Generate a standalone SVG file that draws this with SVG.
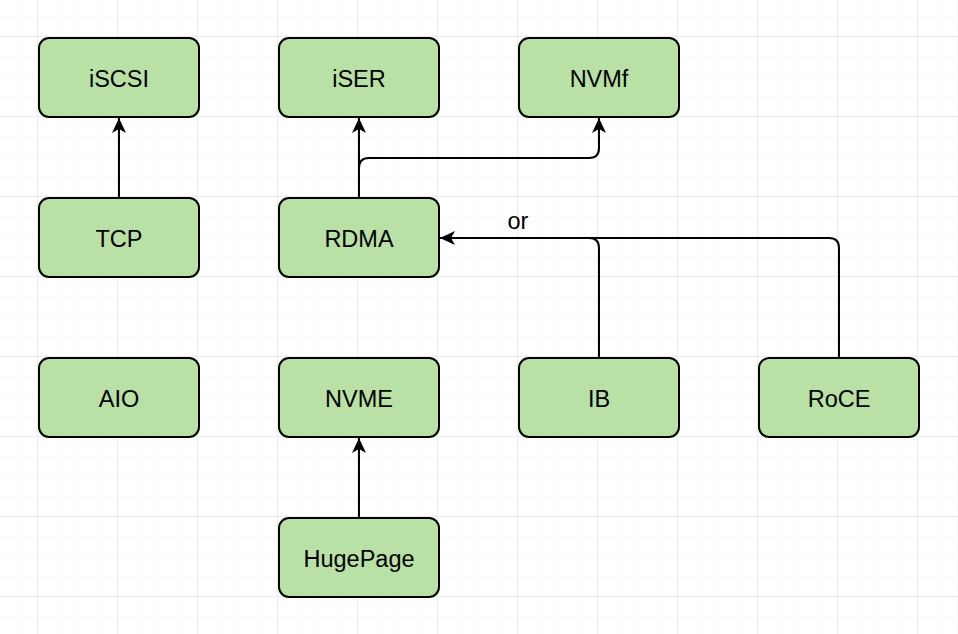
<svg xmlns="http://www.w3.org/2000/svg" width="958" height="634" viewBox="0 0 958 634">
<defs>
<pattern id="minor" width="20" height="20" patternUnits="userSpaceOnUse" x="-2" y="-3">
<path d="M20 0V20M0 20H20" fill="none" stroke="#f3f3f3" stroke-width="1"/>
</pattern>
<pattern id="major" width="80" height="80" patternUnits="userSpaceOnUse" x="-42" y="-43">
<path d="M80 0V80M0 80H80" fill="none" stroke="#dedede" stroke-width="1"/>
</pattern>
<marker id="arr" viewBox="0 0 16 14" refX="15" refY="7" markerWidth="16" markerHeight="14" markerUnits="userSpaceOnUse" orient="auto">
<path d="M0,0 L15,7 L0,14 L4,7 Z" fill="#000"/>
</marker>
</defs>
<style>
.box{fill:#b9e0a5;stroke:#000;stroke-width:2}
.lbl{font-family:"Liberation Sans",Arial,sans-serif;font-size:23.5px;fill:#000;text-anchor:middle}
.edge{fill:none;stroke:#000;stroke-width:2}
</style>
<rect width="958" height="634" fill="#fff"/>
<rect width="958" height="634" fill="url(#minor)"/>
<rect width="958" height="634" fill="url(#major)"/>
<g id="connectors">
<path class="edge" d="M119,198 V118" marker-end="url(#arr)"/>
<path class="edge" d="M359,198 V118" marker-end="url(#arr)"/>
<path class="edge" d="M359,198 V168 Q359,158 369,158 H589 Q599,158 599,148 V118" marker-end="url(#arr)"/>
<path class="edge" d="M599,358 V248 Q599,238 589,238 H440" marker-end="url(#arr)"/>
<path class="edge" d="M839,358 V248 Q839,238 829,238 H589"/>
<path class="edge" d="M359,518 V438" marker-end="url(#arr)"/>
<text class="lbl" x="518" y="229">or</text>
</g>
<g id="iSCSI"><rect class="box" x="39" y="38" width="160" height="79" rx="10"/><text class="lbl" x="119" y="86.5">iSCSI</text></g>
<g id="iSER"><rect class="box" x="279" y="38" width="160" height="79" rx="10"/><text class="lbl" x="359" y="86.5">iSER</text></g>
<g id="NVMf"><rect class="box" x="519" y="38" width="160" height="79" rx="10"/><text class="lbl" x="599" y="86.5">NVMf</text></g>
<g id="TCP"><rect class="box" x="39" y="198" width="160" height="79" rx="10"/><text class="lbl" x="119" y="246.5">TCP</text></g>
<g id="RDMA"><rect class="box" x="279" y="198" width="160" height="79" rx="10"/><text class="lbl" x="359" y="246.5">RDMA</text></g>
<g id="AIO"><rect class="box" x="39" y="358" width="160" height="79" rx="10"/><text class="lbl" x="119" y="406.5">AIO</text></g>
<g id="NVME"><rect class="box" x="279" y="358" width="160" height="79" rx="10"/><text class="lbl" x="359" y="406.5">NVME</text></g>
<g id="IB"><rect class="box" x="519" y="358" width="160" height="79" rx="10"/><text class="lbl" x="599" y="406.5">IB</text></g>
<g id="RoCE"><rect class="box" x="759" y="358" width="160" height="79" rx="10"/><text class="lbl" x="839" y="406.5">RoCE</text></g>
<g id="HugePage"><rect class="box" x="279" y="518" width="160" height="79" rx="10"/><text class="lbl" x="359" y="566.5">HugePage</text></g>
</svg>
